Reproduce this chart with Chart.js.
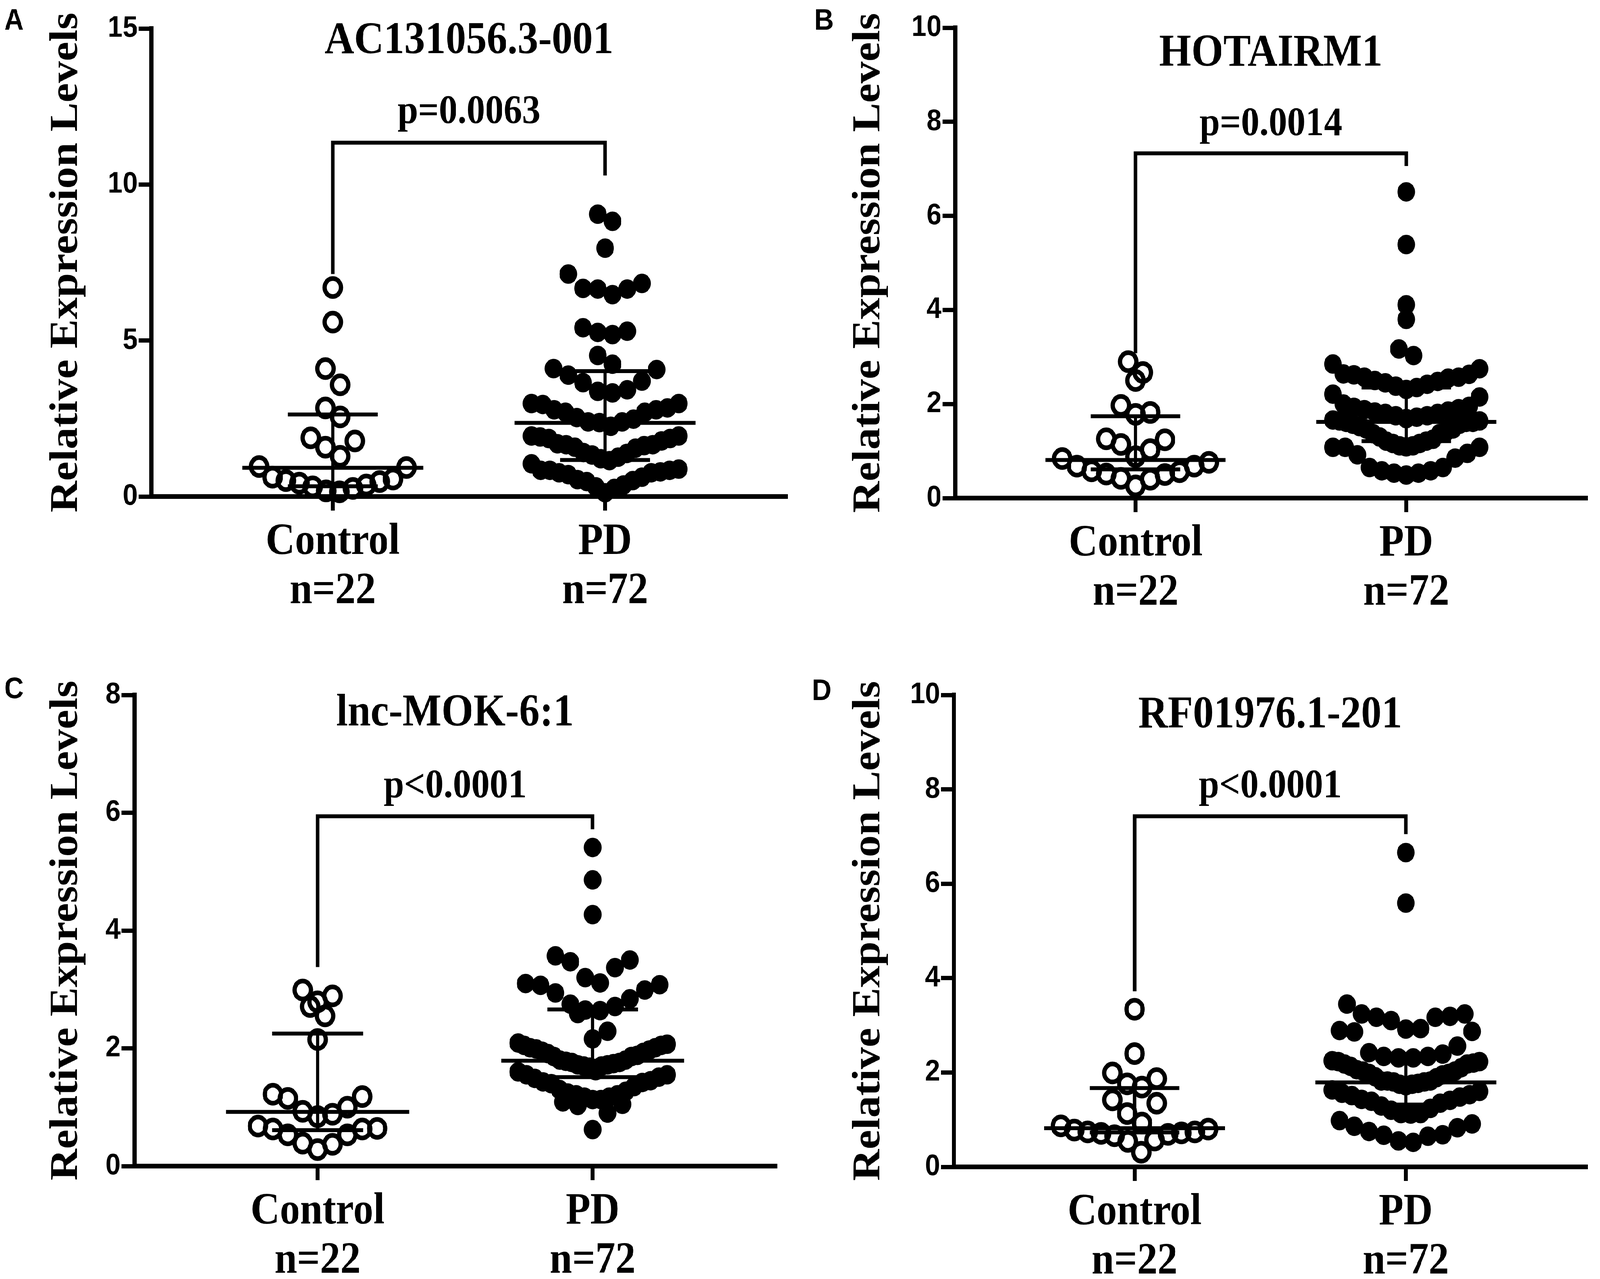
<!DOCTYPE html>
<html>
<head>
<meta charset="utf-8">
<script src="https://cdn.jsdelivr.net/npm/chart.js@4.4.0/dist/chart.umd.min.js"></script>
<style>
  html, body { margin: 0; padding: 0; background: #fff; overflow: hidden; }
  #wrap { position: relative; width: 4512px; height: 3274px; overflow: hidden; background: #fff; transform-origin: 0 0; }
  canvas { position: absolute; }
</style>
</head>
<body>
<div id="wrap">
  <canvas id="panelA" width="2256" height="1637" style="left:0px;top:0px"></canvas>
  <canvas id="panelB" width="2256" height="1637" style="left:2256px;top:0px"></canvas>
  <canvas id="panelC" width="2256" height="1637" style="left:0px;top:1637px"></canvas>
  <canvas id="panelD" width="2256" height="1637" style="left:2256px;top:1637px"></canvas>
</div>
<script>
// ---- data ----
var groups = ["Control", "PD"];
var groupSizes = ["n=22", "n=72"];
var genes = ["AC131056.3-001", "HOTAIRM1", "lnc-MOK-6:1", "RF01976.1-201"];
var pLabels = ["p=0.0063", "p=0.0014", "p<0.0001", "p<0.0001"];
var panelLetters = ["A", "B", "C", "D"];
var yTitle = "Relative Expression Levels";
var yMax = [15, 10, 8, 10];
var yStep = [5, 2, 2, 2];

var controlA = [6.70, 5.59, 4.10, 3.58, 2.84, 2.55, 1.88, 1.78, 1.58, 1.29, 0.96,
  0.93, 0.62, 0.56, 0.51, 0.48, 0.43, 0.37, 0.31, 0.26, 0.18, 0.15];
var pdA = [9.05, 8.82, 7.96, 7.13, 6.83, 6.67, 6.65, 6.65, 6.47,
  5.41, 5.30, 5.26, 5.19, 4.52, 4.24,
  4.10, 4.07, 3.89, 3.70, 3.65, 3.42, 3.37, 3.32, 2.98, 2.98,
  2.95, 2.84, 2.78, 2.78, 2.70, 2.70, 2.53, 2.48, 2.39, 2.39, 2.37, 2.25,
  1.94, 1.94, 1.91, 1.86, 1.86, 1.78, 1.69, 1.66, 1.66, 1.63, 1.58, 1.55, 1.41, 1.38, 1.33, 1.26, 1.21, 1.15, 1.05,
  0.88, 0.84, 0.84, 0.84, 0.79, 0.76, 0.76, 0.70, 0.62, 0.54, 0.51, 0.48, 0.37, 0.31, 0.26, 0.12];

var controlB = [2.90, 2.67, 2.50, 1.97, 1.82, 1.78, 1.26, 1.24, 1.14, 1.03, 0.88,
  0.84, 0.76, 0.68, 0.68, 0.58, 0.56, 0.51, 0.50, 0.42, 0.40, 0.26];
var pdB = [6.51, 5.39, 4.11, 3.80, 3.17, 3.03,
  2.85, 2.75, 2.64, 2.63, 2.62, 2.57, 2.57, 2.55, 2.50, 2.48, 2.45, 2.42, 2.38,
  2.35, 2.31, 2.21, 2.15, 2.00, 1.95, 1.93, 1.90, 1.88, 1.85, 1.83, 1.80, 1.80, 1.75, 1.75, 1.72, 1.69,
  1.66, 1.64, 1.64, 1.61, 1.61, 1.61, 1.57, 1.57, 1.52, 1.47, 1.47, 1.42, 1.37, 1.37, 1.30, 1.25, 1.21, 1.21, 1.16, 1.16, 1.11, 1.11, 1.09,
  1.08, 1.08, 1.08, 0.95, 0.92, 0.85, 0.65, 0.65, 0.58, 0.58, 0.53, 0.53, 0.49];

var controlC = [2.99, 2.89, 2.79, 2.71, 2.55, 2.15, 1.22, 1.18, 1.15, 1.00, 0.93,
  0.88, 0.84, 0.68, 0.64, 0.63, 0.63, 0.53, 0.53, 0.39, 0.37, 0.28];
var pdC = [5.41, 4.86, 4.27,
  3.57, 3.50, 3.47, 3.37, 3.20, 3.11, 3.10, 3.08, 3.07, 2.99, 2.94, 2.84, 2.75, 2.71, 2.65, 2.64, 2.59, 2.29, 2.16,
  2.09, 2.07, 2.05, 2.05, 2.01, 2.01, 1.99, 1.97, 1.95, 1.93, 1.91, 1.88, 1.86, 1.86, 1.80, 1.80, 1.78, 1.76, 1.76, 1.74, 1.72, 1.72, 1.70, 1.70, 1.68,
  1.62, 1.60, 1.55, 1.55, 1.51, 1.49, 1.45, 1.43, 1.42, 1.40, 1.35, 1.30, 1.27, 1.24, 1.21, 1.21, 1.17, 1.17, 1.13, 1.13, 1.09, 1.05, 1.03, 0.90, 0.62];

var controlD = [3.34, 2.40, 1.99, 1.87, 1.76, 1.69, 1.42, 1.35, 1.13, 0.93, 0.87,
  0.80, 0.78, 0.74, 0.74, 0.72, 0.71, 0.69, 0.66, 0.57, 0.54, 0.31];
var pdD = [6.66, 5.59,
  3.45, 3.24, 3.24, 3.19, 3.17, 3.17, 3.10, 2.93, 2.92, 2.89, 2.87, 2.86, 2.56, 2.42, 2.39, 2.34,
  2.34, 2.31, 2.31, 2.25, 2.23, 2.23, 2.20, 2.18, 2.18, 2.13, 2.10, 2.06, 2.03, 2.03, 1.98, 1.98, 1.95, 1.91, 1.89, 1.82,
  1.82, 1.82, 1.80, 1.80, 1.77, 1.75, 1.75, 1.72, 1.63, 1.60, 1.56, 1.53, 1.51, 1.48, 1.43, 1.41, 1.39, 1.35, 1.29, 1.24, 1.20,
  1.13, 1.13, 1.12, 0.98, 0.91, 0.86, 0.83, 0.75, 0.68, 0.67, 0.65, 0.55, 0.52];

// median with interquartile range, as drawn
var controlMedian = [0.92, 0.81, 0.92, 0.82];
var controlQ1 = [0.33, 0.61, 0.61, 0.73];
var controlQ3 = [2.63, 1.74, 2.25, 1.67];
var pdMedian = [2.36, 1.62, 1.79, 1.79];
var pdQ1 = [1.17, 1.21, 1.51, 1.32];
var pdQ3 = [4.02, 2.35, 2.66, 2.37];

// significance bracket (axis units)
var bracketTop = [11.34, 7.33, 5.94, 7.43];
var bracketLeft = [7.13, 3.08, 3.38, 3.72];
var bracketRight = [10.29, 7.06, 5.72, 7.05];
var pValueY = [11.97, 7.72, 6.26, 7.83];

var controls = [controlA, controlB, controlC, controlD];
var pds = [pdA, pdB, pdC, pdD];

// ---- layout / style (page drawn on a 4512 x 3274 grid, then fitted to the window) ----
var PAGE_W = 4512, PAGE_H = 3274;
var X_MIN = 0.334, X_MAX = 2.67;
var DOT_STEP = 42, ROW_SPAN = 420;
var MEDIAN_HALF = 258, CAP_HALF = 128;
var SERIF = '"Liberation Serif", "Times New Roman", serif';
var SANS = '"Liberation Sans", Arial, sans-serif';

var sx = window.innerWidth / PAGE_W, sy = window.innerHeight / PAGE_H;
if (!isFinite(sx) || sx <= 0) sx = 1;
if (!isFinite(sy) || sy <= 0) sy = 1;
document.getElementById("wrap").style.transform = "scale(" + sx + "," + sy + ")";

var layout = [
  { id: "panelA", left: 427, right: 2241, top: 73, bottom: 1271, titleBase: 136, yTitleX: 217, letterX: 12, letterY: 76, bin: 80 },
  { id: "panelB", left: 438, right: 2249, top: 71, bottom: 1275, titleBase: 168, yTitleX: 224, letterX: 40, letterY: 76, bin: 72 },
  { id: "panelC", left: 379, right: 2191, top: 142, bottom: 1348, titleBase: 220, yTitleX: 217, letterX: 12, letterY: 150, bin: 75 },
  { id: "panelD", left: 434, right: 2241, top: 142, bottom: 1350, titleBase: 225, yTitleX: 224, letterX: 34, letterY: 155, bin: 72 }
];

// dot-plot placement: rows of similar values spread sideways, lowest in the middle
function swarm(values, center, binPx, xPx, yPx) {
  var vmin = Math.min.apply(null, values);
  var bins = {};
  values.forEach(function (v) {
    var k = Math.floor((v - vmin) * yPx / binPx + 1e-9);
    (bins[k] = bins[k] || []).push(v);
  });
  var pts = [];
  Object.keys(bins).forEach(function (key) {
    var b = bins[key].slice().sort(function (a, c) { return a - c; });
    var n = b.length;
    var step = n > 1 ? Math.min(DOT_STEP, ROW_SPAN / (n - 1)) : 0;
    b.forEach(function (v, i) {
      var off;
      if (n % 2) {
        off = i === 0 ? 0 : (i % 2 ? 1 : -1) * Math.ceil(i / 2) * step;
      } else {
        off = (i % 2 ? -1 : 1) * (Math.floor(i / 2) + 0.5) * step;
      }
      pts.push({ x: center + off / xPx, y: v });
    });
  });
  return pts;
}

function line(points, width) {
  return {
    type: "line",
    data: points.map(function (p) { return { x: p[0], y: p[1] }; }),
    borderColor: "#000",
    borderWidth: width || 10,
    pointRadius: 0,
    fill: false,
    tension: 0,
    clip: false,
    order: 1,
    borderCapStyle: "butt",
    borderJoinStyle: "miter"
  };
}

function makeChart(i) {
  var L = layout[i];
  var canvas = document.getElementById(L.id);
  var W = canvas.width, H = canvas.height;
  var xPx = (L.right - L.left) / (X_MAX - X_MIN);
  var yPx = (L.bottom - L.top) / yMax[i];

  var sets = [];
  sets.push({
    type: "scatter",
    data: swarm(controls[i], 1, L.bin, xPx, yPx),
    pointRadius: 23, pointBorderWidth: 12,
    pointBorderColor: "#000", pointBackgroundColor: "rgba(0,0,0,0)",
    order: 2, clip: false
  });
  sets.push({
    type: "scatter",
    data: swarm(pds[i], 2, L.bin, xPx, yPx),
    pointRadius: 22, pointBorderWidth: 6,
    pointBorderColor: "#000", pointBackgroundColor: "#000",
    order: 2, clip: false
  });

  var mh = MEDIAN_HALF / xPx, ch = CAP_HALF / xPx;
  [[1, controlMedian[i], controlQ1[i], controlQ3[i]], [2, pdMedian[i], pdQ1[i], pdQ3[i]]].forEach(function (g) {
    sets.push(line([[g[0] - mh, g[1]], [g[0] + mh, g[1]]]));
    sets.push(line([[g[0] - ch, g[3]], [g[0] + ch, g[3]]]));
    sets.push(line([[g[0] - ch, g[2]], [g[0] + ch, g[2]]]));
    sets.push(line([[g[0], g[2]], [g[0], g[3]]], 9));
  });
  sets.push(line([[1, bracketLeft[i]], [1, bracketTop[i]], [2, bracketTop[i]], [2, bracketRight[i]]], 10));

  var textPlugin = {
    id: "panelText",
    afterDraw: function (chart) {
      var ctx = chart.ctx, xs = chart.scales.x, ys = chart.scales.y;
      ctx.save();
      ctx.fillStyle = "#000";
      ctx.textAlign = "center";
      ctx.textBaseline = "alphabetic";
      ctx.font = "bold 116px " + SERIF;
      ctx.fillText(genes[i], xs.getPixelForValue(1.5), L.titleBase);
      ctx.font = "bold 104px " + SERIF;
      ctx.fillText(pLabels[i], xs.getPixelForValue(1.5), ys.getPixelForValue(pValueY[i]));
      ctx.save();
      ctx.translate(L.yTitleX, (L.top + L.bottom) / 2);
      ctx.rotate(-Math.PI / 2);
      ctx.font = "bold 112px " + SERIF;
      ctx.fillText(yTitle, 0, 0);
      ctx.restore();
      ctx.textAlign = "left";
      ctx.font = "bold 76px " + SANS;
      ctx.fillText(panelLetters[i], L.letterX, L.letterY);
      ctx.restore();
    }
  };

  var tickGrid = {
    display: true, drawOnChartArea: false, drawTicks: true,
    tickLength: 36, tickWidth: 11, color: "#000", tickColor: "#000"
  };
  var axisBorder = { display: true, color: "#000", width: 12 };

  new Chart(canvas, {
    type: "scatter",
    data: { datasets: sets },
    options: {
      responsive: false,
      animation: false,
      devicePixelRatio: 1,
      events: [],
      layout: { padding: { top: L.top, right: W - L.right, left: 0, bottom: 0 } },
      plugins: {
        legend: { display: false },
        tooltip: { enabled: false },
        title: { display: false }
      },
      scales: {
        x: {
          type: "linear",
          min: X_MIN,
          max: X_MAX,
          afterFit: function (s) { s.height = H - L.bottom; },
          afterBuildTicks: function (s) { s.ticks = [{ value: 1 }, { value: 2 }]; },
          ticks: {
            callback: function (v) { return v === 1 ? [groups[0], groupSizes[0]] : [groups[1], groupSizes[1]]; },
            font: { family: SERIF, weight: "bold", size: 114, lineHeight: 1.105 },
            color: "#000",
            padding: 19,
            maxRotation: 0,
            autoSkip: false
          },
          grid: tickGrid,
          border: axisBorder
        },
        y: {
          min: 0,
          max: yMax[i],
          afterFit: function (s) { s.width = L.left; },
          ticks: {
            stepSize: yStep[i],
            font: { family: SANS, weight: "bold", size: 76 },
            color: "#000",
            padding: 3
          },
          grid: tickGrid,
          border: axisBorder
        }
      }
    },
    plugins: [textPlugin]
  });
}

for (var k = 0; k < 4; k++) makeChart(k);
</script>
</body>
</html>
